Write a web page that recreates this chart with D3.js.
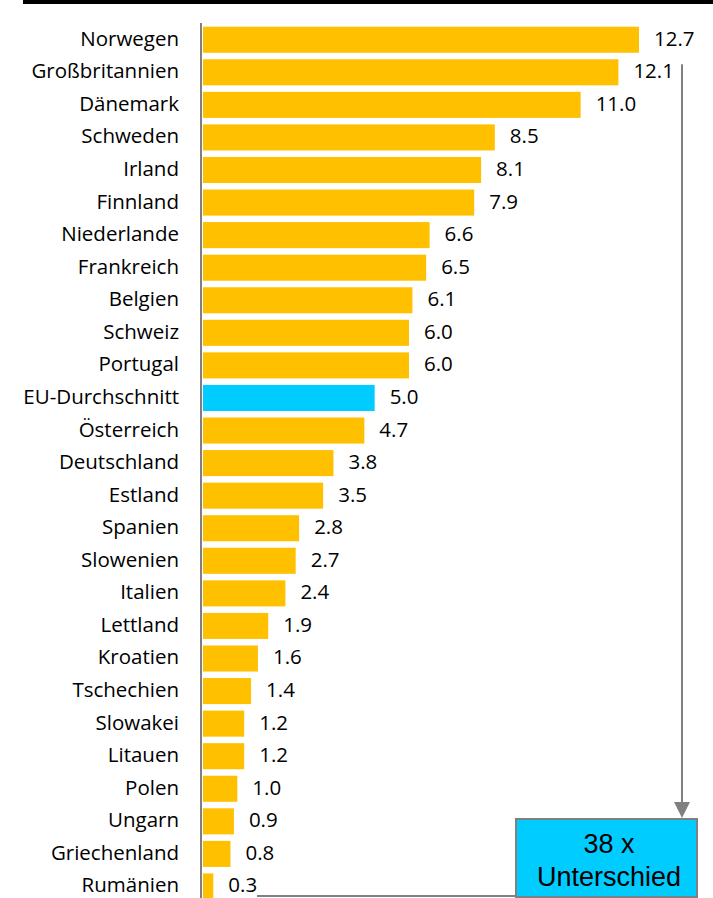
<!DOCTYPE html>
<html>
<head>
<meta charset="utf-8">
<script src="https://cdn.jsdelivr.net/npm/d3@7"></script>
<style>
  body { margin: 0; background: #fff; }
  svg { display: block; }
</style>
</head>
<body>
<div id="chart"></div>
<script>
const countries = [
  'Norwegen', 'Großbritannien', 'Dänemark', 'Schweden', 'Irland', 'Finnland',
  'Niederlande', 'Frankreich', 'Belgien', 'Schweiz', 'Portugal', 'EU-Durchschnitt',
  'Österreich', 'Deutschland', 'Estland', 'Spanien', 'Slowenien', 'Italien',
  'Lettland', 'Kroatien', 'Tschechien', 'Slowakei', 'Litauen', 'Polen',
  'Ungarn', 'Griechenland', 'Rumänien'
];
const values = [
  12.7, 12.1, 11.0, 8.5, 8.1, 7.9, 6.6, 6.5, 6.1, 6.0, 6.0, 5.0,
  4.7, 3.8, 3.5, 2.8, 2.7, 2.4, 1.9, 1.6, 1.4, 1.2, 1.2, 1.0,
  0.9, 0.8, 0.3
];
const highlight = 'EU-Durchschnitt';
const boxLines = ['38 x', 'Unterschied'];

const width = 713, height = 898;
const rows = countries.map((c, i) => ({ country: c, value: values[i] }));

const svg = d3.select('#chart').append('svg')
  .attr('width', width)
  .attr('height', height);

const x = d3.scaleLinear().domain([0, 12.7]).range([203, 639]);
const y = d3.scaleBand()
  .domain(countries)
  .range([26.7, 899.5])
  .paddingInner(0.2)
  .paddingOuter(0);

// text sits a touch above bar centre so the last row stays on the page
const labelY = d => y(d.country) + y.bandwidth() / 2 - 1;

// top rule
svg.append('line')
  .attr('x1', 23).attr('x2', width)
  .attr('y1', 2).attr('y2', 2)
  .attr('stroke', '#000').attr('stroke-width', 4);

svg.selectAll('rect.bar')
  .data(rows)
  .join('rect')
  .attr('class', 'bar')
  .attr('x', x(0))
  .attr('y', d => y(d.country))
  .attr('width', d => x(d.value) - x(0))
  .attr('height', y.bandwidth())
  .attr('fill', d => d.country === highlight ? '#00CCFF' : '#FFC000');

// y axis line
svg.append('line')
  .attr('x1', 201).attr('x2', 201)
  .attr('y1', 23).attr('y2', height)
  .attr('stroke', '#7f7f7f').attr('stroke-width', 2);

svg.selectAll('text.cat')
  .data(rows)
  .join('text')
  .attr('class', 'cat')
  .attr('x', 179)
  .attr('y', labelY)
  .attr('dy', '0.34em')
  .attr('text-anchor', 'end')
  .attr('font-family', 'Open Sans, sans-serif')
  .attr('font-size', 20.5)
  .attr('fill', '#000')
  .text(d => d.country);

svg.selectAll('text.val')
  .data(rows)
  .join('text')
  .attr('class', 'val')
  .attr('x', d => x(d.value) + 15)
  .attr('y', labelY)
  .attr('dy', '0.34em')
  .attr('font-family', 'Open Sans, sans-serif')
  .attr('font-size', 20.5)
  .attr('fill', '#000')
  .text(d => d3.format('.1f')(d.value));

// bracket: vertical line with arrow, bottom line to box
const bx = 682;
const grey = '#808080';
svg.append('line')
  .attr('x1', bx).attr('x2', bx)
  .attr('y1', y(countries[1]) + 5).attr('y2', 804)
  .attr('stroke', grey).attr('stroke-width', 2);
svg.append('path')
  .attr('d', `M${bx - 8},802 L${bx + 8},802 L${bx},818 Z`)
  .attr('fill', grey);
svg.append('line')
  .attr('x1', 257).attr('x2', 516)
  .attr('y1', 896).attr('y2', 896)
  .attr('stroke', grey).attr('stroke-width', 2);

// box
svg.append('rect')
  .attr('x', 516).attr('y', 819)
  .attr('width', 181).attr('height', 78)
  .attr('fill', '#00CCFF')
  .attr('stroke', grey).attr('stroke-width', 2);
svg.selectAll('text.box')
  .data(boxLines)
  .join('text')
  .attr('class', 'box')
  .attr('x', 609)
  .attr('y', (d, i) => 844 + i * 33)
  .attr('dy', '0.35em')
  .attr('text-anchor', 'middle')
  .attr('font-family', 'Liberation Sans, Arial, sans-serif')
  .attr('font-size', 27)
  .attr('fill', '#000')
  .text(d => d);
</script>
</body>
</html>
